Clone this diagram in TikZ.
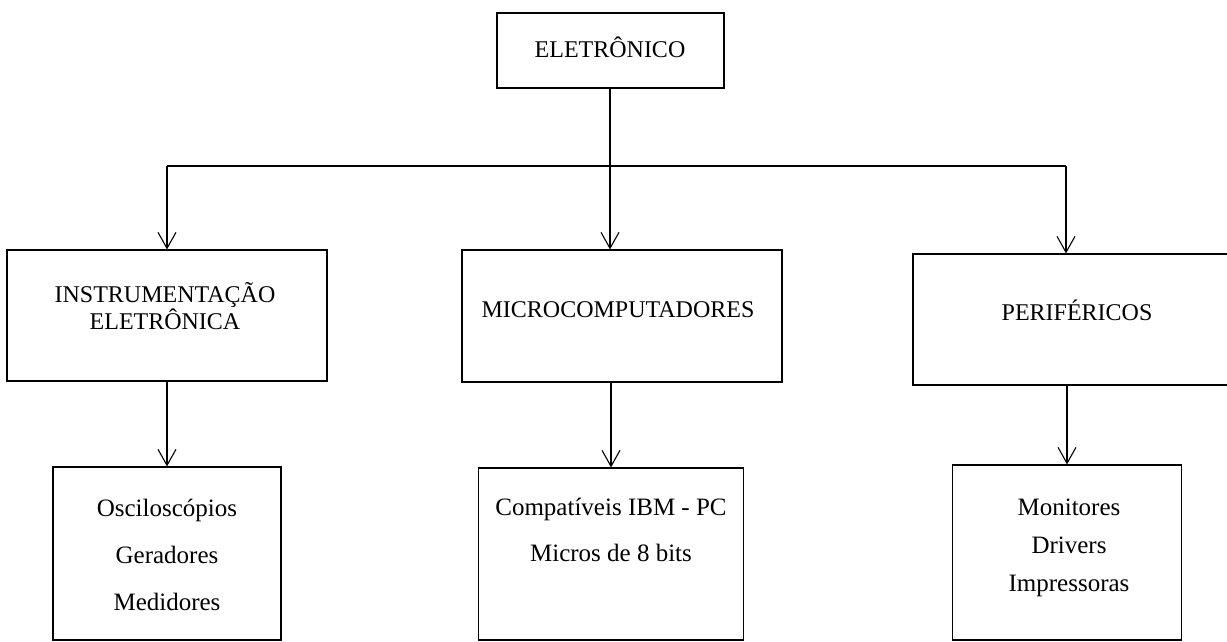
\documentclass[tikz,border=0pt]{standalone}
\usepackage{fontspec}
\setmainfont{Liberation Serif}
\usepackage{tikz}
\usetikzlibrary{positioning,arrows.meta}

\tikzset{
  box/.style={draw,line width=1.1pt,rectangle,inner sep=0pt},
  txt/.style={align=center,inner sep=0pt,font=\fontsize{24}{27}\selectfont},
  arrow/.style={line width=1.1pt,-{Straight Barb[length=16pt,width=18pt,line width=1.1pt]}}
}

\begin{document}
\begin{tikzpicture}[x=1pt,y=-1pt]
	\useasboundingbox (0,0) rectangle (1227,642);
	
	% boxes
	\node[box,minimum width=227pt,minimum height=75pt] (top) at (610.5,50.5) {};
	\node[box,minimum width=320pt,minimum height=131pt] (inst) at (167,315.5) {};
	\node[box,minimum width=320pt,minimum height=132pt] (micro) at (622,316) {};
	\node[box,minimum width=327pt,minimum height=131pt] (peri) at (1076.5,319.5) {};
	\node[box,minimum width=228pt,minimum height=173pt] (osc) at (167,553.5) {};
	\node[box,minimum width=265pt,minimum height=172pt] (comp) at (611,554) {};
	\node[box,minimum width=229pt,minimum height=175pt] (mon) at (1067,552.5) {};
	
	% texts
	\node[txt] (ttop) at (610,47) {ELETRÔNICO};
	\node[txt] (tinst) at (165,306) {INSTRUMENTAÇÃO\\ELETRÔNICA};
	\node[txt] (tmicro) at (618,310) {MICROCOMPUTADORES};
	\node[txt] (tperi) at (1077,310) {PERIFÉRICOS};
	\node[txt,font=\fontsize{25}{47}\selectfont] (tosc) at (167,555) {Osciloscópios\\Geradores\\Medidores};
	\node[txt,font=\fontsize{25}{46}\selectfont] (tcomp) at (611,530) {Compatíveis IBM - PC\\Micros de 8 bits};
	\node[txt,font=\fontsize{25}{38}\selectfont] (tmon) at (1069,548) {Monitores\\Drivers\\Impressoras};
	
	% connectors
	\coordinate (cl) at (167,166);
	\coordinate (cm) at (610,166);
	\coordinate (cr) at (1066,166);
	\draw[line width=1.1pt] (top.south -| cm) -- (cm);
	\draw[line width=1.1pt] (cl) -- (cr);
	\draw[arrow] (cl) -- (cl |- inst.north);
	\draw[arrow] (cm) -- (cm |- micro.north);
	\draw[arrow] (cr) -- (cr |- peri.north);
	\draw[arrow] (inst.south) -- (osc.north);
	\draw[arrow] (micro.south -| comp.north) -- (comp.north);
	\draw[arrow] (mon.north |- peri.south) -- (mon.north);
	
\end{tikzpicture}
\end{document}
